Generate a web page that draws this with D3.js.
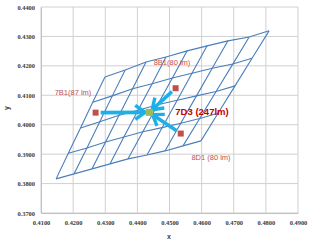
<!DOCTYPE html>
<html>
<head>
<meta charset="utf-8">
<script src="https://cdn.jsdelivr.net/npm/d3@7"></script>
<style>
  body { margin: 0; background: #fff; }
  text { font-family: "Liberation Sans", Arial, sans-serif; }
</style>
</head>
<body>
<script>
// axis ticks
var xTicks = [0.41, 0.42, 0.43, 0.44, 0.45, 0.46, 0.47, 0.48, 0.49];
var yTicks = [0.37, 0.38, 0.39, 0.40, 0.41, 0.42, 0.43, 0.44];

// bin grid nodes, rows from bottom to top, 9 nodes each
var gridX = [
  [0.4147, 0.4203, 0.4259, 0.4315, 0.4371, 0.4430, 0.4486, 0.4542, 0.4598],
  [0.4185, 0.4243, 0.4301, 0.4358, 0.4417, 0.4477, 0.4535, 0.4594, 0.4651],
  [0.4223, 0.4283, 0.4343, 0.4402, 0.4463, 0.4524, 0.4584, 0.4645, 0.4704],
  [0.4261, 0.4322, 0.4385, 0.4446, 0.4509, 0.4570, 0.4633, 0.4697, 0.4757],
  [0.4299, 0.4362, 0.4427, 0.4489, 0.4555, 0.4617, 0.4682, 0.4748, 0.4810]
];
var gridY = [
  [0.3816, 0.3833, 0.3850, 0.3867, 0.3884, 0.3897, 0.3911, 0.3928, 0.3945],
  [0.3903, 0.3921, 0.3941, 0.3958, 0.3976, 0.3990, 0.4005, 0.4021, 0.4039],
  [0.3989, 0.4010, 0.4032, 0.4049, 0.4068, 0.4083, 0.4098, 0.4113, 0.4132],
  [0.4076, 0.4098, 0.4122, 0.4139, 0.4159, 0.4175, 0.4192, 0.4206, 0.4226],
  [0.4162, 0.4186, 0.4213, 0.4230, 0.4251, 0.4268, 0.4285, 0.4298, 0.4319]
];

// source bins (red) and mixed result (green)
var srcNames = ["7B1(87 lm)", "8B1(80 lm)", "8D1 (80 lm)"];
var srcX = [0.4270, 0.4519, 0.4535];
var srcY = [0.4041, 0.4124, 0.3970];
var mixName = "7D3 (247lm)";
var mixX = 0.4437, mixY = 0.4042;

var width = 314, height = 243;
var margin = {top: 7, right: 16, bottom: 30, left: 41};

var svg = d3.select("body").append("svg")
  .attr("width", width)
  .attr("height", height);

var x = d3.scaleLinear().domain([0.41, 0.49]).range([margin.left, width - margin.right]);
var y = d3.scaleLinear().domain([0.37, 0.44]).range([height - margin.bottom, margin.top]);

// gridlines
svg.append("g").selectAll("line").data(xTicks).enter().append("line")
  .attr("x1", function(d){ return x(d); }).attr("x2", function(d){ return x(d); })
  .attr("y1", y(0.37)).attr("y2", y(0.44))
  .attr("stroke", "#d0d0d0").attr("stroke-width", 1);
svg.append("g").selectAll("line").data(yTicks).enter().append("line")
  .attr("y1", function(d){ return y(d); }).attr("y2", function(d){ return y(d); })
  .attr("x1", x(0.41)).attr("x2", x(0.49))
  .attr("stroke", "#d0d0d0").attr("stroke-width", 1);

// axes (labels only, gridlines drawn above)
var xAxis = svg.append("g")
  .attr("transform", "translate(0," + y(0.37) + ")")
  .call(d3.axisBottom(x).tickValues(xTicks).tickSize(0).tickPadding(7).tickFormat(d3.format(".4f")));
var yAxis = svg.append("g")
  .attr("transform", "translate(" + x(0.41) + ",0)")
  .call(d3.axisLeft(y).tickValues(yTicks).tickSize(0).tickPadding(6).tickFormat(d3.format(".4f")));
[xAxis, yAxis].forEach(function(a){
  a.select(".domain").attr("stroke", "#c0c0c0");
  a.selectAll("text")
    .attr("font-size", 6.4).attr("font-weight", "bold").attr("fill", "#3a3a3a")
    .style("font-family", "'Liberation Serif', serif");
});

svg.append("text").attr("x", 169).attr("y", 239)
  .attr("text-anchor", "middle").attr("font-size", 7).attr("font-weight", "bold")
  .attr("fill", "#404040").text("x");
svg.append("text").attr("transform", "translate(9,108) rotate(-90)")
  .attr("text-anchor", "middle").attr("font-size", 7).attr("font-weight", "bold")
  .attr("fill", "#404040").text("y");

// bin grid
var line = d3.line().x(function(d){ return x(d[0]); }).y(function(d){ return y(d[1]); });
var rows = gridX.map(function(r, i){ return r.map(function(v, j){ return [v, gridY[i][j]]; }); });
var cols = gridX[0].map(function(v, j){ return rows.map(function(r){ return r[j]; }); });
svg.append("g").selectAll("path").data(rows.concat(cols)).enter().append("path")
  .attr("d", line)
  .attr("fill", "none").attr("stroke", "#4a7ebb").attr("stroke-width", 1.1);

// arrows from each source to the mix point
var blue = "#1cb0e8";
var arrows = srcX.map(function(v, i){ return {x1: x(v), y1: y(srcY[i]), x2: x(mixX), y2: y(mixY)}; });
arrows.forEach(function(a){
  var dx = a.x2 - a.x1, dy = a.y2 - a.y1, len = Math.sqrt(dx*dx + dy*dy);
  var ux = dx/len, uy = dy/len;
  var sx = a.x1 + ux*5, sy = a.y1 + uy*5;
  var ex = a.x2 - ux*4, ey = a.y2 - uy*4;
  svg.append("line").attr("x1", sx).attr("y1", sy).attr("x2", ex - ux*1).attr("y2", ey - uy*1)
    .attr("stroke", blue).attr("stroke-width", 3.6);
  var hl = 10, hw = 7;
  var bx = ex - ux*hl, by = ey - uy*hl;
  svg.append("path")
    .attr("d", "M" + (bx - uy*hw) + "," + (by + ux*hw) + "L" + ex + "," + ey + "L" + (bx + uy*hw) + "," + (by - ux*hw))
    .attr("fill", "none").attr("stroke", blue).attr("stroke-width", 3.4).attr("stroke-linejoin", "miter");
});

// markers
svg.append("g").selectAll("rect").data(srcX).enter().append("rect")
  .attr("x", function(d){ return x(d) - 3; })
  .attr("y", function(d, i){ return y(srcY[i]) - 3; })
  .attr("width", 6).attr("height", 6).attr("fill", "#c0504d");
svg.append("rect").attr("x", x(mixX) - 3.5).attr("y", y(mixY) - 3.5)
  .attr("width", 7).attr("height", 7).attr("fill", "#9bbb59");

// labels
var labelPos = [[73, 95], [172, 65], [211, 160]];
svg.append("g").selectAll("text").data(srcNames).enter().append("text")
  .attr("x", function(d, i){ return labelPos[i][0]; })
  .attr("y", function(d, i){ return labelPos[i][1]; })
  .attr("text-anchor", "middle").attr("font-size", 7.5).attr("fill", "#c0504d")
  .text(function(d){ return d; });
svg.append("text").attr("x", 202).attr("y", 115)
  .attr("text-anchor", "middle").attr("font-size", 9.5).attr("font-weight", "bold")
  .attr("fill", "#c00000").text(mixName);
</script>
</body>
</html>
